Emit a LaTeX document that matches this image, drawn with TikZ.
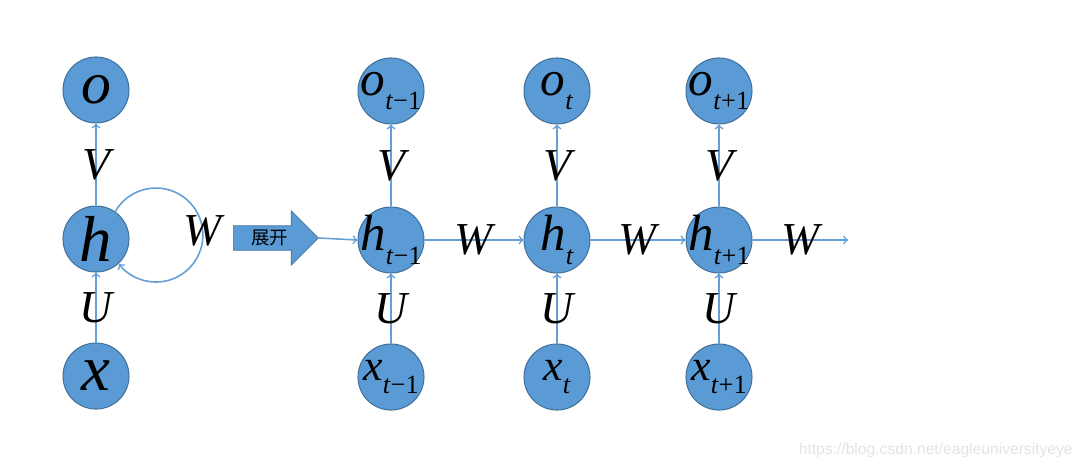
\documentclass[tikz,border=0pt]{standalone}
\usepackage{fontspec}
\setmainfont{Liberation Serif}
\newfontfamily\cjkfont{Noto Sans CJK SC}
\newfontfamily\markfont{Liberation Sans}
\usetikzlibrary{positioning, arrows, shapes.arrows}
\definecolor{cellblue}{RGB}{91,155,213}
\definecolor{celledge}{RGB}{65,113,156}
\definecolor{linkblue}{RGB}{100,160,215}
\newcommand{\Sz}[1]{\fontsize{#1}{#1}\selectfont}
\newcommand{\Var}[2]{\makebox[0pt]{\textit{#1}\raisebox{-0.28em}{\Sz{15}#2}}}
\tikzset{
    cell/.style={circle, fill=cellblue, draw=celledge, line width=0.6pt, minimum size=1.32cm, inner sep=0pt},
    weight/.style={font=\Sz{26}\itshape, inner sep=0pt},
    link/.style={->, draw=linkblue, line width=0.9pt},
    unfold/.style={single arrow, fill=cellblue, draw=celledge, line width=0.4pt,
        minimum height=1.7cm, single arrow head extend=0.3cm,
        inner xsep=0.1cm, inner ysep=0.075cm, font=\cjkfont\Sz{10.5}},
}

\begin{document}
\begin{tikzpicture}[x=0.02cm, y=0.02cm]
    \useasboundingbox (0,0) rectangle (1084,468);

    % folded network
    \node[cell, font=\Sz{37}] (h0) at (96,229) {\textit{h}};
    \node[cell, font=\Sz{34}, above=1.64cm of h0] (o0) {\textit{o}};
    \node[cell, font=\Sz{37}, below=1.4cm of h0] (x0) {\textit{x}};

    \draw[link] (h0) -- node[weight]{V} (o0);
    \draw[link] (x0) -- node[weight]{U} (h0);
    \draw[link] (h0.55) arc[start angle=150, end angle=-142, radius=0.94cm];
    \node[weight] (wloop) at (203,237) {W};

    \node[unfold, anchor=tail] (unfold) at (233,230) {展开};

    % unfolded network
    \node[cell, font=\Sz{29}] (h1) at (391,228) {\Var{h}{\textit{t}−1}};
    \node[cell, font=\Sz{28}, above=1.64cm of h1] (o1) {\Var{o}{\textit{t}−1}};
    \node[cell, font=\Sz{25}, below=1.4cm of h1] (x1) {\Var{x}{\textit{t}−1}};

    \node[cell, font=\Sz{29}] (h2) at (557,228) {\Var{h}{\textit{t}}};
    \node[cell, font=\Sz{28}, above=1.64cm of h2] (o2) {\Var{o}{\textit{t}}};
    \node[cell, font=\Sz{25}, below=1.4cm of h2] (x2) {\Var{x}{\textit{t}}};

    \node[cell, font=\Sz{29}] (h3) at (719,228) {\Var{h}{\textit{t}+1}};
    \node[cell, font=\Sz{28}, above=1.64cm of h3] (o3) {\Var{o}{\textit{t}+1}};
    \node[cell, font=\Sz{25}, below=1.4cm of h3] (x3) {\Var{x}{\textit{t}+1}};

    \coordinate (hout) at (848,228);

    \draw[link] (h1) -- node[weight]{V} (o1);
    \draw[link] (x1) -- node[weight]{U} (h1);
    \draw[link] (h2) -- node[weight]{V} (o2);
    \draw[link] (x2) -- node[weight]{U} (h2);
    \draw[link] (h3) -- node[weight]{V} (o3);
    \draw[link] (x3) -- node[weight]{U} (h3);

    \draw[link] (unfold.tip) -- (h1.west);
    \draw[link] (h1) -- node[weight]{W} (h2);
    \draw[link] (h2) -- node[weight]{W} (h3);
    \draw[link] (h3) -- node[weight]{W} (hout);

    \node[text=gray!22, font=\markfont\Sz{8.9}, anchor=east, inner sep=0pt] (mark) at (1073,18) {https://blog.csdn.net/eagleuniversityeye};
\end{tikzpicture}
\end{document}
